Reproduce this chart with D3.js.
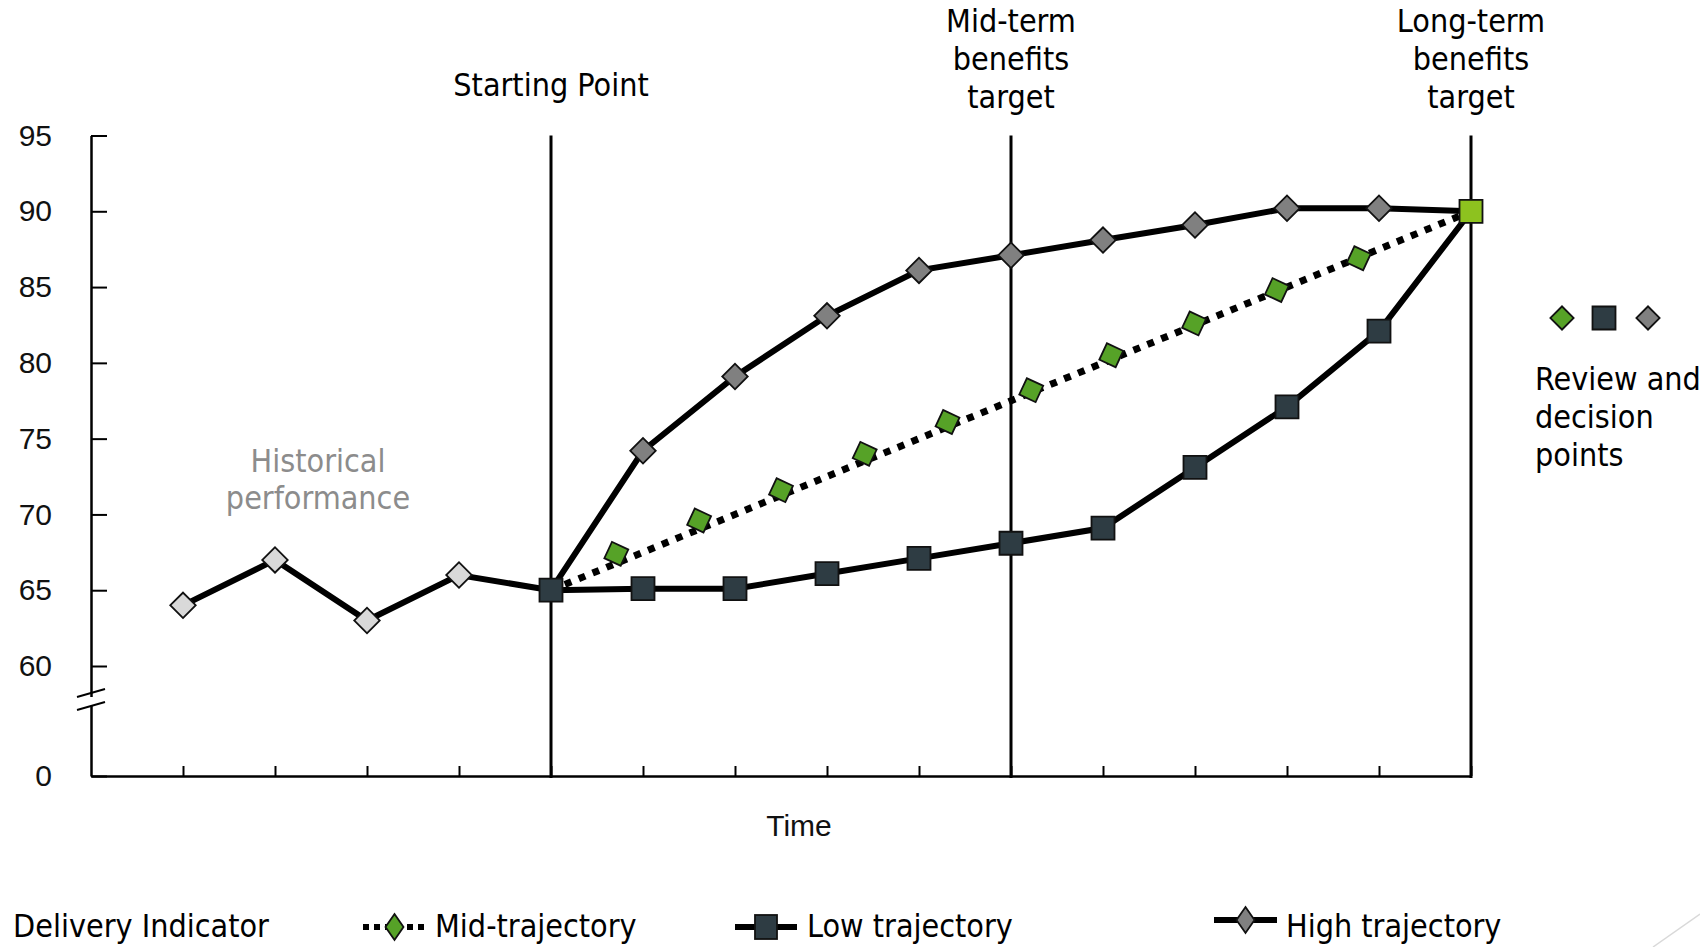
<!DOCTYPE html>
<html>
<head>
<meta charset="utf-8">
<script src="https://cdn.jsdelivr.net/npm/d3@7"></script>
<style>
  body { margin: 0; background: #fff; }
  text { font-family: "DejaVu Sans Condensed", "DejaVu Sans", sans-serif; font-stretch: condensed; }
  .num { font-family: "Liberation Sans", Arial, sans-serif; font-stretch: normal; }
</style>
</head>
<body>
<div id="chart"></div>
<script>
// periods on the time axis (index), 0..14
const periods = d3.range(0, 15);
const yTicks = [0, 60, 65, 70, 75, 80, 85, 90, 95];

// historical performance
const histX = [0, 1, 2, 3];
const histY = [64, 67, 63, 66];

// starting point
const startX = 4;
const startY = 65;

// high trajectory
const highX = [4, 5, 6, 7, 8, 9, 10, 11, 12, 13, 14];
const highY = [65, 74.2, 79.1, 83.1, 86.1, 87.1, 88.1, 89.1, 90.2, 90.2, 90];

// low trajectory
const lowX = [4, 5, 6, 7, 8, 9, 10, 11, 12, 13, 14];
const lowY = [65, 65.1, 65.1, 66.1, 67.1, 68.1, 69.1, 73.1, 77.1, 82.1, 90];

// mid trajectory: straight dotted line plus its markers
const midLineX = [4, 14];
const midLineY = [65, 90];
const midX = [4.71, 5.61, 6.5, 7.41, 8.31, 9.22, 10.09, 10.99, 11.89, 12.78];
const midY = [67.4, 69.6, 71.6, 74.0, 76.1, 78.2, 80.5, 82.6, 84.8, 86.9];

// long-term target
const targetX = 14;
const targetY = 90;

// milestone lines and their labels
const milestoneX = [4, 9, 14];
const milestoneLabels = [["Starting Point"], ["Mid-term", "benefits", "target"], ["Long-term", "benefits", "target"]];

const legendItems = ["Mid-trajectory", "Low trajectory", "High trajectory"];

const width = 1700, height = 947;
const green = "#56a227", dark = "#2e3c43", grey = "#808080", light = "#d9d9d9", lime = "#8dc21f";
const fs = 32;

const svg = d3.select("#chart").append("svg")
  .attr("width", width).attr("height", height);

const x = d3.scaleLinear().domain([-1, 14]).range([91, 1471]);
const y = d3.scaleLinear().domain([0, 60, 95]).range([776, 666, 135.5]);

const zip = (xs, ys) => xs.map((v, i) => [v, ys[i]]);
const line = d3.line().x(d => x(d[0])).y(d => y(d[1]));

// milestone verticals
svg.append("g").selectAll("line")
  .data(milestoneX)
  .join("line")
    .attr("x1", d => x(d)).attr("x2", d => x(d))
    .attr("y1", y(95)).attr("y2", y(0) + 2)
    .attr("stroke", "#000").attr("stroke-width", 3);

// milestone labels
milestoneX.forEach((m, i) => {
  const lines = milestoneLabels[i];
  const t = svg.append("text")
    .attr("x", x(m)).attr("text-anchor", "middle")
    .attr("font-size", fs).attr("fill", "#000");
  const base = lines.length === 1 ? 96 : 32;
  lines.forEach((s, j) => t.append("tspan").attr("x", x(m)).attr("y", base + j * 38).text(s));
});

// y axis
svg.append("g")
  .attr("transform", `translate(${x(-1)},0)`)
  .call(d3.axisLeft(y).tickValues(yTicks).tickSizeInner(-16).tickSizeOuter(0).tickPadding(39))
  .call(g => g.select(".domain").attr("stroke-width", 2.5))
  .call(g => g.selectAll(".tick line").attr("stroke-width", 2))
  .call(g => g.selectAll(".tick text").attr("class", "num").attr("font-size", 30).attr("fill", "#111"));

// axis break
svg.append("rect").attr("x", x(-1) - 4).attr("y", 697).attr("width", 8).attr("height", 9).attr("fill", "#fff");
svg.append("g").selectAll("line")
  .data([697, 710])
  .join("line")
    .attr("x1", 77).attr("x2", 105)
    .attr("y1", d => d).attr("y2", d => d - 8)
    .attr("stroke", "#000").attr("stroke-width", 2);

// x axis
svg.append("g")
  .attr("transform", `translate(0,${y(0)})`)
  .call(d3.axisBottom(x).tickValues(periods).tickSizeInner(-10).tickSizeOuter(0).tickFormat(""))
  .call(g => g.select(".domain").attr("stroke-width", 2.5))
  .call(g => g.selectAll(".tick line").attr("stroke-width", 2));

svg.append("text").attr("class", "num")
  .attr("x", 799).attr("y", 836).attr("text-anchor", "middle")
  .attr("font-size", 30).attr("fill", "#111").text("Time");

// historical annotation
svg.append("text")
  .attr("x", 318).attr("text-anchor", "middle").attr("font-size", fs).attr("fill", "#8c8c8c")
  .call(t => {
    t.append("tspan").attr("x", 318).attr("y", 472).text("Historical");
    t.append("tspan").attr("x", 318).attr("y", 509).text("performance");
  });

// lines
svg.append("path").datum(zip(histX.concat([startX]), histY.concat([startY])))
  .attr("d", line).attr("fill", "none").attr("stroke", "#000").attr("stroke-width", 6);
svg.append("path").datum(zip(highX, highY))
  .attr("d", line).attr("fill", "none").attr("stroke", "#000").attr("stroke-width", 6);
svg.append("path").datum(zip(lowX, lowY))
  .attr("d", line).attr("fill", "none").attr("stroke", "#000").attr("stroke-width", 6);
svg.append("path").datum(zip(midLineX, midLineY))
  .attr("d", line).attr("fill", "none").attr("stroke", "#000").attr("stroke-width", 7)
  .attr("stroke-dasharray", "7,8");

const sq = d3.symbol().type(d3.symbolSquare);

function markers(xs, ys, size, rot, fill) {
  svg.append("g").selectAll("path")
    .data(zip(xs, ys))
    .join("path")
      .attr("d", sq.size(size)())
      .attr("transform", d => `translate(${x(d[0])},${y(d[1])}) rotate(${rot})`)
      .attr("fill", fill).attr("stroke", "#111").attr("stroke-width", 1.8);
}

markers(histX, histY, 324, 45, light);
markers(highX.slice(1, -1), highY.slice(1, -1), 324, 45, grey);
markers(midX, midY, 324, 25, green);
markers(lowX.slice(0, -1), lowY.slice(0, -1), 529, 0, dark);
markers([targetX], [targetY], 529, 0, lime);

// review and decision points legend
const revG = svg.append("g").attr("transform", "translate(0,318)");
revG.append("path").attr("d", sq.size(270)()).attr("transform", "translate(1562,0) rotate(45)")
  .attr("fill", green).attr("stroke", "#111").attr("stroke-width", 1.8);
revG.append("path").attr("d", sq.size(529)()).attr("transform", "translate(1604,0)")
  .attr("fill", dark).attr("stroke", "#111").attr("stroke-width", 1.8);
revG.append("path").attr("d", sq.size(270)()).attr("transform", "translate(1648,0) rotate(45)")
  .attr("fill", grey).attr("stroke", "#111").attr("stroke-width", 1.8);
svg.append("text").attr("font-size", fs).attr("fill", "#000")
  .call(t => ["Review and", "decision", "points"].forEach((s, j) =>
    t.append("tspan").attr("x", 1535).attr("y", 390 + j * 38).text(s)));

// bottom legend
svg.append("text").attr("x", 13).attr("y", 937).attr("font-size", fs).text("Delivery Indicator");

const legendPos = [
  { x1: 363, x2: 426, cy: 927, tx: 435, dash: "6,5", w: 6, fill: green, shape: "diamond" },
  { x1: 735, x2: 797, cy: 927, tx: 807, dash: null, w: 6, fill: dark, shape: "square" },
  { x1: 1214, x2: 1277, cy: 920, tx: 1286, dash: null, w: 6, fill: grey, shape: "diamond" }
];
legendPos.forEach((p, i) => {
  const g = svg.append("g");
  g.append("line").attr("x1", p.x1).attr("x2", p.x2).attr("y1", p.cy).attr("y2", p.cy)
    .attr("stroke", "#000").attr("stroke-width", p.w).attr("stroke-dasharray", p.dash);
  const cx = (p.x1 + p.x2) / 2;
  if (p.shape === "diamond") {
    g.append("path").attr("d", `M${cx},${p.cy - 13}L${cx + 9},${p.cy}L${cx},${p.cy + 13}L${cx - 9},${p.cy}Z`)
      .attr("fill", p.fill).attr("stroke", "#111").attr("stroke-width", 1.8);
  } else {
    g.append("rect").attr("x", cx - 11).attr("y", p.cy - 12).attr("width", 22).attr("height", 24)
      .attr("fill", p.fill).attr("stroke", "#111").attr("stroke-width", 1.8);
  }
  g.append("text").attr("x", p.tx).attr("y", 937).attr("font-size", fs).text(legendItems[i]);
});

// slide decoration
svg.append("line").attr("x1", 1653).attr("y1", 947).attr("x2", 1700).attr("y2", 914)
  .attr("stroke", "#d9d9d9").attr("stroke-width", 1.5);
</script>
</body>
</html>
